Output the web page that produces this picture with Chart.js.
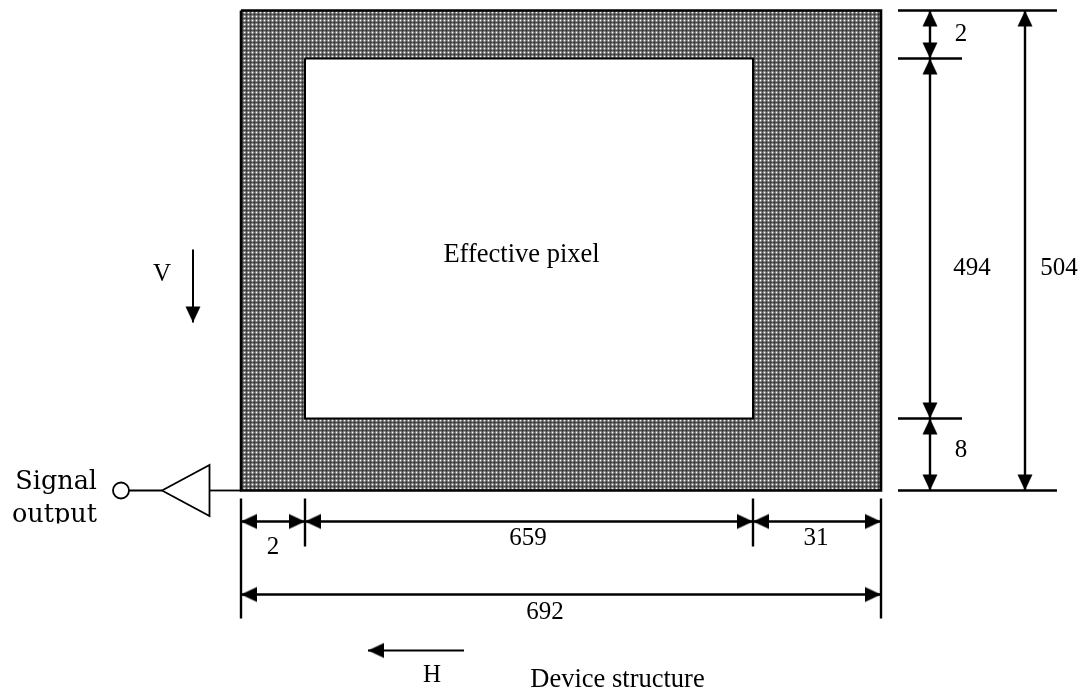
<!DOCTYPE html>
<html>
<head>
<meta charset="utf-8">
<title>Device structure</title>
<script src="https://cdn.jsdelivr.net/npm/chart.js@4/dist/chart.umd.js"></script>
<style>
  html, body { margin: 0; padding: 0; background: #fff; }
  #wrap { width: 1084px; height: 688px; }
</style>
</head>
<body>
<div id="wrap"><canvas id="myChart"></canvas></div>
<script>
// pixel counts printed on the drawing, the drawing itself is not to scale
const widthCounts = ["2", "659", "31", "692"];
const heightCounts = ["2", "494", "8", "504"];

// diagram units, x runs right and y runs down from the device corner
const deviceX = [0, 640];
const deviceY = [0, 480];
const effectiveX = [64, 512];
const effectiveY = [48, 408];

const dimLineRightX = [689, 784];
const dimLineBottomY = [511, 584];
const shortTickEnd = 721;
const longTickEnd = 816;
const bottomTickStart = 488;
const shortDropEnd = 536;
const longDropEnd = 608;
const tickStartRight = 657;

const vArrowX = -48;
const vArrowY = [239, 312];
const hArrowY = 640;
const hArrowX = [223, 127];

const outputY = 480;
const buffer = { tipX: -79, baseX: -31.5, halfH: 25.5 };
const outputCircleX = -120;

const labelTexts = ["Effective pixel", "Device structure"];
const labelX = [280.5, 376.5];
const labelY = [245, 670];

const pointsOf = (xs, ys) => xs.map((x, i) => ({ x: x, y: ys[i] }));

function boxPoints(xs, ys) {
  return pointsOf([xs[0], xs[1], xs[1], xs[0], xs[0]], [ys[0], ys[0], ys[1], ys[1], ys[0]]);
}

// arrow head sprite, tip sits in the middle so the point lands on the tip
function arrowSprite() {
  const c = document.createElement("canvas");
  c.width = 34;
  c.height = 34;
  const g = c.getContext("2d");
  g.fillStyle = "#000";
  g.beginPath();
  g.moveTo(17, 17);
  g.lineTo(24.5, 33);
  g.lineTo(9.5, 33);
  g.closePath();
  g.fill();
  return c;
}

// plaid dither of the shaded area, 4px repeat with a light dot
function ditherPattern() {
  const greys = [
    [255, 150, 90, 150],
    [150, 120, 70, 120],
    [90, 70, 50, 70],
    [150, 120, 70, 120]
  ];
  const c = document.createElement("canvas");
  c.width = 4;
  c.height = 4;
  const g = c.getContext("2d");
  greys.forEach((row, y) => row.forEach((v, x) => {
    g.fillStyle = "rgb(" + v + "," + v + "," + v + ")";
    g.fillRect(x, y, 1, 1);
  }));
  return document.createElement("canvas").getContext("2d").createPattern(c, "repeat");
}

function line(data, width) {
  return {
    data: data,
    showLine: true,
    borderColor: "#000",
    borderWidth: width,
    pointRadius: 0,
    fill: false
  };
}

function arrows(data, rotation, sprite) {
  return {
    data: data,
    showLine: false,
    pointStyle: sprite,
    pointRadius: 17,
    pointRotation: rotation
  };
}

const sprite = arrowSprite();
const tx = dimLineRightX;
const ty = dimLineBottomY;
const dx = deviceX, dy = deviceY, ex = effectiveX, ey = effectiveY;

const datasets = [
  // shaded device area and the white window on top of it
  { data: pointsOf(dx, [dy[0], dy[0]]), showLine: true, borderWidth: 0, pointRadius: 0,
    backgroundColor: ditherPattern(), fill: { value: dy[1] } },
  { data: pointsOf(ex, [ey[0], ey[0]]), showLine: true, borderWidth: 0, pointRadius: 0,
    backgroundColor: "#fff", fill: { value: ey[1] } },
  line(boxPoints(dx, dy), 2.6),
  line(boxPoints(ex, ey), 2),

  // extension lines on the right
  line(pointsOf([tickStartRight, longTickEnd], [dy[0], dy[0]]), 2.4),
  line(pointsOf([tickStartRight, shortTickEnd], [ey[0], ey[0]]), 2.4),
  line(pointsOf([tickStartRight, shortTickEnd], [ey[1], ey[1]]), 2.4),
  line(pointsOf([tickStartRight, longTickEnd], [dy[1], dy[1]]), 2.4),
  line(pointsOf([tx[0], tx[0]], dy), 2.4),
  line(pointsOf([tx[1], tx[1]], dy), 2.4),

  // extension lines below
  line(pointsOf([dx[0], dx[0]], [bottomTickStart, longDropEnd]), 2.4),
  line(pointsOf([ex[0], ex[0]], [bottomTickStart, shortDropEnd]), 2.4),
  line(pointsOf([ex[1], ex[1]], [bottomTickStart, shortDropEnd]), 2.4),
  line(pointsOf([dx[1], dx[1]], [bottomTickStart, longDropEnd]), 2.4),
  line(pointsOf(dx, [ty[0], ty[0]]), 2.4),
  line(pointsOf(dx, [ty[1], ty[1]]), 2.4),

  // scan direction arrows
  line(pointsOf([vArrowX, vArrowX], vArrowY), 2),
  line(pointsOf(hArrowX, [hArrowY, hArrowY]), 2),

  // output amplifier
  line(pointsOf([outputCircleX, buffer.tipX], [outputY, outputY]), 1.8),
  line(pointsOf([buffer.baseX, dx[0]], [outputY, outputY]), 1.8),
  line(pointsOf([buffer.tipX, buffer.baseX, buffer.baseX, buffer.tipX],
    [outputY, outputY - buffer.halfH, outputY + buffer.halfH, outputY]), 1.8),
  { data: [{ x: outputCircleX, y: outputY }], showLine: false, pointStyle: "circle", pointRadius: 8,
    pointBorderColor: "#000", pointBorderWidth: 1.8, pointBackgroundColor: "#fff" },

  arrows(pointsOf([tx[0], tx[0], tx[1], tx[0]], [ey[0], ey[1], dy[0], dy[0]]), 0, sprite),
  arrows(pointsOf([tx[0], tx[0], tx[0], tx[1], vArrowX], [ey[0], ey[1], dy[1], dy[1], vArrowY[1]]), 180, sprite),
  arrows(pointsOf([dx[0], ex[0], ex[1], dx[0], hArrowX[1]], [ty[0], ty[0], ty[0], ty[1], hArrowY]), 270, sprite),
  arrows(pointsOf([ex[0], ex[1], dx[1], dx[1]], [ty[0], ty[0], ty[0], ty[1]]), 90, sprite)
];

// chart.js paints the first dataset last, the list above reads back to front
datasets.reverse();

// text goes through the same scales as the marks
const textPlugin = {
  id: "diagramText",
  afterDatasetsDraw(chart) {
    const g = chart.ctx;
    const sx = chart.scales.x, sy = chart.scales.y;
    const put = (text, x, y) => g.fillText(text, sx.getPixelForValue(x), sy.getPixelForValue(y));
    g.save();
    g.fillStyle = "#000";
    g.textAlign = "center";
    g.textBaseline = "middle";
    g.font = "26.5px 'Liberation Serif'";
    labelTexts.forEach((t, i) => put(t, labelX[i], labelY[i]));

    g.font = "25px 'Liberation Serif'";
    put("V", -79, 264);
    put("H", 191, 665);
    put(widthCounts[0], 32, 537);
    put(widthCounts[1], 287, 528);
    put(widthCounts[2], 575, 528);
    put(widthCounts[3], 304, 602);
    put(heightCounts[0], 720, 24);
    put(heightCounts[1], 731, 258);
    put(heightCounts[2], 720, 440);
    put(heightCounts[3], 818, 258);

    // the output label is cut off at its bottom edge in the source
    g.font = "25.5px 'DejaVu Serif'";
    g.textAlign = "right";
    g.textBaseline = "alphabetic";
    g.beginPath();
    g.rect(0, 0, 1084, sy.getPixelForValue(513));
    g.clip();
    put("Signal", -144, 478);
    put("output", -144, 511);
    g.restore();
  }
};

new Chart("myChart", {
  type: "scatter",
  data: { datasets: datasets },
  options: {
    responsive: true,
    maintainAspectRatio: false,
    animation: false,
    layout: { padding: 0, autoPadding: false },
    plugins: { legend: { display: false }, tooltip: { enabled: false } },
    scales: {
      x: { type: "linear", display: false, min: -241, max: 843 },
      y: { type: "linear", display: false, reverse: true, min: -10.5, max: 677.5 }
    }
  },
  plugins: [textPlugin]
});
</script>
</body>
</html>
